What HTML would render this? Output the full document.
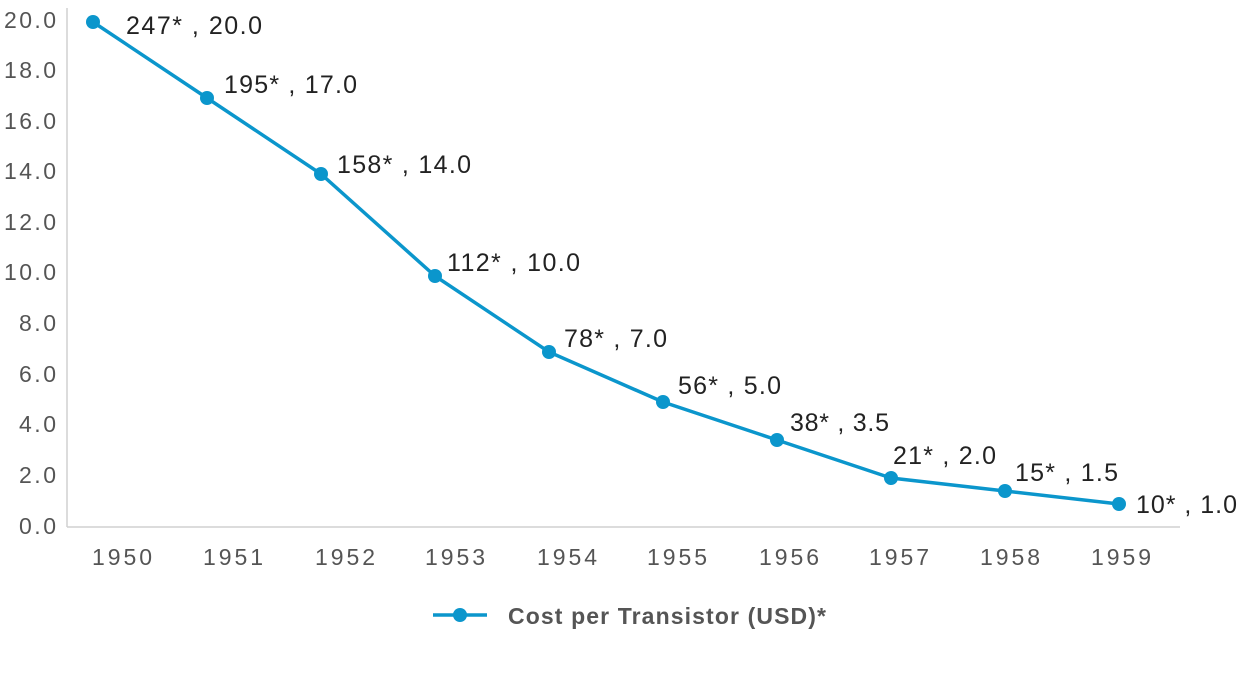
<!DOCTYPE html>
<html><head><meta charset="utf-8"><style>
body{margin:0;background:#fff;width:1250px;height:675px;overflow:hidden}
text{font-family:"Liberation Sans",sans-serif}
</style></head><body>
<svg width="1250" height="675" xmlns="http://www.w3.org/2000/svg">
<line x1="67" y1="8" x2="67" y2="527" stroke="#d0d0d0" stroke-width="1.5"/>
<line x1="67" y1="527" x2="1180" y2="527" stroke="#d0d0d0" stroke-width="1.5"/>
<g font-size="23" fill="#555" text-anchor="end">
<text x="56" y="28" textLength="52">20.0</text><text x="56" y="78" textLength="52">18.0</text><text x="56" y="129" textLength="52">16.0</text>
<text x="56" y="179" textLength="52">14.0</text><text x="56" y="230" textLength="52">12.0</text><text x="56" y="280" textLength="52">10.0</text>
<text x="56" y="331" textLength="37">8.0</text><text x="56" y="382" textLength="37">6.0</text><text x="56" y="432" textLength="37">4.0</text>
<text x="56" y="483" textLength="37">2.0</text><text x="56" y="534" textLength="37">0.0</text>
</g>
<g font-size="23" fill="#555" text-anchor="middle">
<text x="122" y="565" textLength="60">1950</text><text x="233" y="565" textLength="60">1951</text><text x="345" y="565" textLength="60">1952</text>
<text x="455" y="565" textLength="60">1953</text><text x="567" y="565" textLength="60">1954</text><text x="677" y="565" textLength="60">1955</text>
<text x="789" y="565" textLength="60">1956</text><text x="899" y="565" textLength="60">1957</text><text x="1010" y="565" textLength="60">1958</text>
<text x="1121" y="565" textLength="60">1959</text>
</g>
<polyline fill="none" stroke="#0b96cc" stroke-width="3.5" points="93,22 207,98 321,174 435,276 549,352 663,402 777,440 891,478 1005,491 1119,504"/>
<g fill="#0b96cc">
<circle cx="93" cy="22" r="7"/><circle cx="207" cy="98" r="7"/><circle cx="321" cy="174" r="7"/>
<circle cx="435" cy="276" r="7"/><circle cx="549" cy="352" r="7"/><circle cx="663" cy="402" r="7"/>
<circle cx="777" cy="440" r="7"/><circle cx="891" cy="478" r="7"/><circle cx="1005" cy="491" r="7"/>
<circle cx="1119" cy="504" r="7"/>
</g>
<g font-size="25" fill="#222">
<text x="126" y="34" textLength="136">247* , 20.0</text><text x="224" y="93" textLength="133">195* , 17.0</text>
<text x="337" y="173" textLength="134">158* , 14.0</text><text x="447" y="271" textLength="133">112* , 10.0</text>
<text x="564" y="347" textLength="103">78* , 7.0</text><text x="678" y="394" textLength="103">56* , 5.0</text>
<text x="790" y="431" textLength="99">38* , 3.5</text><text x="893" y="464" textLength="103">21* , 2.0</text>
<text x="1015" y="481" textLength="103">15* , 1.5</text><text x="1136" y="513" textLength="101">10* , 1.0</text>
</g>
<line x1="433" y1="615" x2="487" y2="615" stroke="#0b96cc" stroke-width="3.5"/>
<circle cx="460" cy="615" r="7" fill="#0b96cc"/>
<text x="508" y="624" font-size="23" font-weight="bold" fill="#555" textLength="318">Cost per Transistor (USD)*</text>
</svg>
</body></html>
